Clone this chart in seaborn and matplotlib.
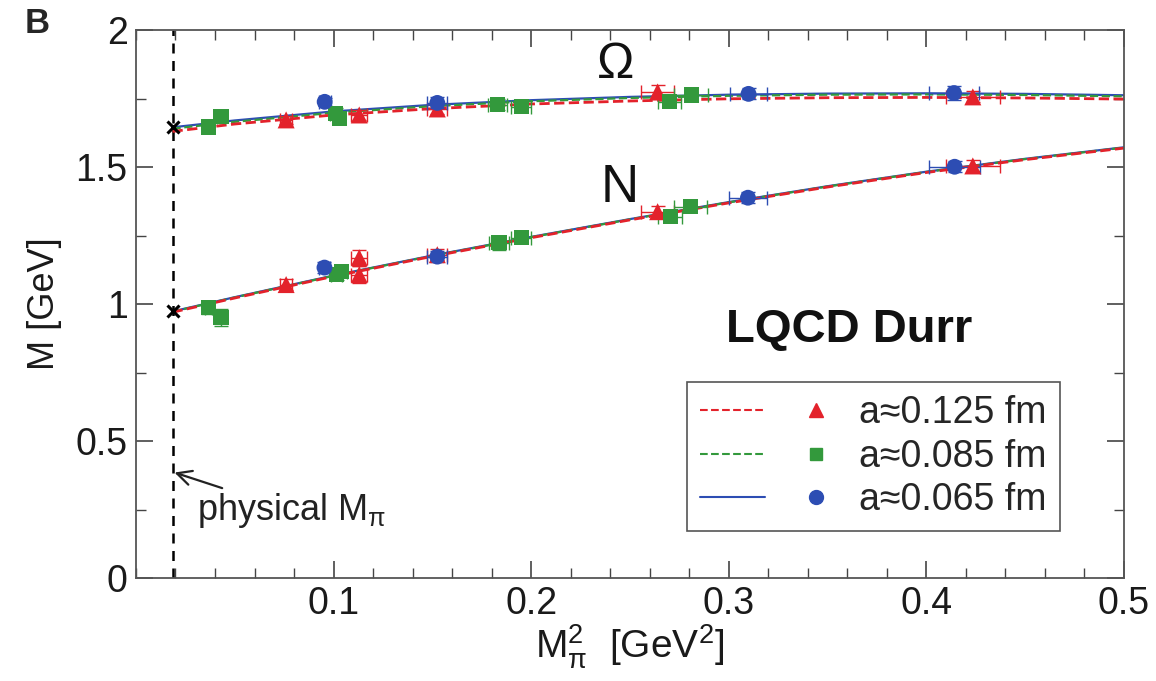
import numpy as np
import pandas as pd
import seaborn as sns
import matplotlib.pyplot as plt
from matplotlib.lines import Line2D
from matplotlib.legend_handler import HandlerBase
from matplotlib.ticker import MultipleLocator, FormatStrFormatter

# physical pion mass squared (GeV^2)
x_phys = 0.0185
omega_phys = 1.645
n_phys = 0.973

# fit curves
curve_x = [0.0185, 0.05, 0.1, 0.15, 0.2, 0.25, 0.3, 0.35, 0.4, 0.45, 0.5]
omega_fit_065 = [1.645, 1.670, 1.703, 1.727, 1.744, 1.756, 1.764, 1.768, 1.769, 1.767, 1.762]
omega_fit_085 = [1.640, 1.665, 1.698, 1.722, 1.740, 1.752, 1.760, 1.764, 1.765, 1.763, 1.758]
omega_fit_125 = [1.630, 1.657, 1.690, 1.713, 1.730, 1.741, 1.749, 1.753, 1.754, 1.752, 1.748]
n_fit_065 = [0.973, 1.025, 1.104, 1.177, 1.245, 1.310, 1.372, 1.430, 1.483, 1.530, 1.572]
n_fit_085 = [0.972, 1.024, 1.103, 1.176, 1.244, 1.309, 1.371, 1.429, 1.482, 1.529, 1.571]
n_fit_125 = [0.970, 1.022, 1.101, 1.174, 1.242, 1.307, 1.369, 1.427, 1.480, 1.527, 1.569]

# lattice points, a ~ 0.125 fm
om125_x = [0.076, 0.113, 0.1525, 0.264, 0.4235]
om125_y = [1.672, 1.690, 1.712, 1.774, 1.756]
om125_xe = [0.003, 0.004, 0.005, 0.0085, 0.0136]
om125_ye = [0.015, 0.018, 0.020, 0.025, 0.020]
n125_x = [0.076, 0.113, 0.113, 0.1525, 0.264, 0.4235]
n125_y = [1.071, 1.169, 1.107, 1.180, 1.337, 1.504]
n125_xe = [0.003, 0.004, 0.004, 0.005, 0.0085, 0.0136]
n125_ye = [0.020, 0.030, 0.030, 0.020, 0.020, 0.020]

# a ~ 0.085 fm
om085_x = [0.0367, 0.043, 0.101, 0.103, 0.183, 0.195, 0.270, 0.281]
om085_y = [1.646, 1.683, 1.695, 1.678, 1.727, 1.720, 1.738, 1.763]
om085_xe = [0.002, 0.002, 0.003, 0.003, 0.005, 0.005, 0.006, 0.0085]
om085_ye = [0.018, 0.020, 0.020, 0.020, 0.020, 0.020, 0.020, 0.020]
n085_x = [0.0367, 0.043, 0.1015, 0.104, 0.1837, 0.195, 0.2704, 0.2806]
n085_y = [0.987, 0.951, 1.107, 1.118, 1.224, 1.242, 1.319, 1.355]
n085_xe = [0.002, 0.002, 0.003, 0.003, 0.005, 0.005, 0.006, 0.0085]
n085_ye = [0.025, 0.030, 0.020, 0.020, 0.025, 0.020, 0.020, 0.020]

# a ~ 0.065 fm
om065_x = [0.0955, 0.1525, 0.310, 0.414]
om065_y = [1.738, 1.734, 1.767, 1.770]
om065_xe = [0.003, 0.005, 0.0094, 0.0128]
om065_ye = [0.015, 0.020, 0.020, 0.025]
n065_x = [0.0954, 0.1525, 0.3097, 0.4143]
n065_y = [1.133, 1.173, 1.388, 1.501]
n065_xe = [0.003, 0.005, 0.0094, 0.0128]
n065_ye = [0.020, 0.020, 0.020, 0.020]

labels = ["a\u22480.125 fm", "a\u22480.085 fm", "a\u22480.065 fm"]
red, green, blue = "#e3222b", "#33993c", "#2d4db3"

sns.set_theme(style="ticks")
plt.rcParams["font.family"] = ["Liberation Sans", "DejaVu Sans"]
plt.rcParams["mathtext.fontset"] = "custom"
plt.rcParams["mathtext.rm"] = "Liberation Sans"
plt.rcParams["mathtext.it"] = "Liberation Sans"
plt.rcParams["mathtext.bf"] = "Liberation Sans:bold"

fig = plt.figure(figsize=(11.56, 6.81), dpi=100)
ax = fig.add_axes([0.1176, 0.1512, 0.8547, 0.8047])

# fit curves
fits = [
    (omega_fit_065, n_fit_065, blue, "-", 1.6),
    (omega_fit_085, n_fit_085, green, "--", 1.6),
    (omega_fit_125, n_fit_125, red, "--", 2.0),
]
for om, nn, c, ls, lw in fits:
    sns.lineplot(x=curve_x, y=om, ax=ax, color=c, linestyle=ls, lw=lw, zorder=2)
    sns.lineplot(x=curve_x, y=nn, ax=ax, color=c, linestyle=ls, lw=lw, zorder=2)

# physical point
ax.axvline(x_phys, color="black", ls=(0, (4, 3)), lw=1.8, zorder=1)
ax.plot([x_phys, x_phys], [omega_phys, n_phys], ls="none", marker="x",
        color="black", ms=9, mew=2.2, zorder=5)

# data with error bars
sets = [
    (om125_x, om125_y, om125_xe, om125_ye, red, "^", 150),
    (n125_x, n125_y, n125_xe, n125_ye, red, "^", 150),
    (om085_x, om085_y, om085_xe, om085_ye, green, "s", 120),
    (n085_x, n085_y, n085_xe, n085_ye, green, "s", 120),
    (om065_x, om065_y, om065_xe, om065_ye, blue, "o", 130),
    (n065_x, n065_y, n065_xe, n065_ye, blue, "o", 130),
]
for xs, ys, xe, ye, c, m, s in sets:
    ax.errorbar(xs, ys, xerr=xe, yerr=ye, fmt="none", ecolor=c, elinewidth=1.0,
                capsize=5, capthick=1.0, zorder=3)
    df = pd.DataFrame({"x": xs, "y": ys})
    sns.scatterplot(data=df, x="x", y="y", ax=ax, color=c, marker=m, s=s,
                    edgecolor="none", zorder=4, legend=False)

ax.set_xlim(0, 0.5)
ax.set_ylim(0, 2)
ax.set_xticks([0.1, 0.2, 0.3, 0.4, 0.5])
ax.xaxis.set_major_formatter(FormatStrFormatter("%g"))
ax.xaxis.set_minor_locator(MultipleLocator(0.02))
ax.yaxis.set_major_locator(MultipleLocator(0.5))
ax.yaxis.set_major_formatter(FormatStrFormatter("%g"))
ax.yaxis.set_minor_locator(MultipleLocator(0.25))
ax.tick_params(which="both", direction="in", top=True, right=True,
               colors="#444444", labelcolor="#1a1a1a", labelsize=27)
ax.tick_params(which="major", length=12, width=1.2, pad=6)
ax.tick_params(which="minor", length=7, width=1.0)
for sp in ax.spines.values():
    sp.set_color("#555555")
    sp.set_linewidth(1.3)

ax.set_xlabel(r"M$_\pi^2$  [GeV$^2$]", fontsize=28, color="#1a1a1a", labelpad=0)
ax.set_ylabel("M [GeV]", fontsize=26, color="#1a1a1a", labelpad=10)

ax.text(0.2425, 1.872, "\u03a9", fontsize=36, ha="center", va="center", color="#111111")
ax.text(0.245, 1.424, "N", fontsize=38, ha="center", va="center", color="#111111")
ax.text(0.361, 0.905, "LQCD Durr", fontsize=34, fontweight="bold", ha="center",
        va="center", color="#111111")
ax.annotate(r"physical M$_\pi$", xy=(x_phys + 0.001, 0.385), xytext=(0.031, 0.245),
            fontsize=26, color="#222222", ha="left", va="center",
            arrowprops=dict(arrowstyle="->", color="#222222", lw=1.6,
                            shrinkA=0, shrinkB=0))

fig.text(0.032, 0.965, "B", fontsize=25, fontweight="bold", ha="center", va="center")


class LineMarkerHandler(HandlerBase):
    def create_artists(self, legend, orig_handle, xdescent, ydescent, width,
                       height, fontsize, trans):
        c, ls, m, ms = orig_handle
        y = height / 2 - ydescent
        ln = Line2D([-xdescent, -xdescent + width - 45], [y, y], color=c,
                    ls=ls, lw=1.5, transform=trans)
        mk = Line2D([-xdescent + width - 8], [y], color=c, ls="none",
                    marker=m, ms=ms, transform=trans)
        return [ln, mk]


handles = [(red, "--", "^", 10), (green, "--", "s", 8), (blue, "-", "o", 10)]
leg = ax.legend(handles, labels, handler_map={tuple: LineMarkerHandler()},
                loc="lower right", bbox_to_anchor=(0.935, 0.085), fontsize=27,
                handlelength=3.4, handletextpad=0.85, labelspacing=0.2,
                borderpad=0.35, borderaxespad=0, frameon=True, fancybox=False,
                framealpha=1)
leg.get_frame().set_edgecolor("#555555")
leg.get_frame().set_linewidth(1.2)

fig.savefig("out.png", dpi=100)
